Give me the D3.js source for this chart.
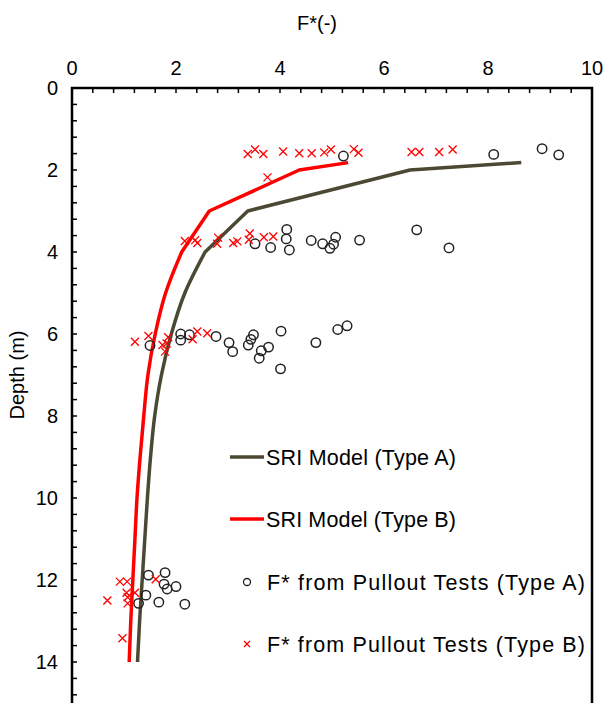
<!DOCTYPE html>
<html><head><meta charset="utf-8">
<script src="https://cdn.jsdelivr.net/npm/d3@7"></script>
<style>body{margin:0;background:#fff}svg{display:block}text{font-family:"Liberation Sans",Arial,sans-serif;fill:#000}</style>
</head><body><svg id="c" width="603" height="703"></svg>
<script>
const xTicks = [0, 2, 4, 6, 8, 10];
const yTicks = [0, 2, 4, 6, 8, 10, 12, 14];
const modelDepth = [1.82, 2, 3, 4, 5, 6, 7, 8, 9, 10, 11, 12, 13, 14];
const modelA = [8.64, 6.5, 3.38, 2.56, 2.17, 1.91, 1.72, 1.59, 1.51, 1.45, 1.40, 1.35, 1.30, 1.26];
const modelB = [5.31, 4.37, 2.64, 2.11, 1.80, 1.60, 1.46, 1.38, 1.31, 1.25, 1.21, 1.17, 1.13, 1.10];
const testAF = [5.22, 8.11, 9.04, 9.36,
  4.13, 4.12, 3.52, 3.82, 4.18, 4.60, 4.82, 4.96, 5.03, 5.07, 5.53, 6.63, 7.25,
  1.50, 2.09, 2.09, 2.26, 2.77, 3.02, 3.09, 3.39, 3.44, 3.49, 3.64, 3.60, 3.78, 4.02, 4.01, 4.69, 5.11, 5.29,
  1.47, 1.79, 1.77, 1.83, 2.00, 1.42, 1.28, 1.67, 2.17];
const testAD = [1.66, 1.62, 1.48, 1.63,
  3.45, 3.68, 3.80, 3.89, 3.95, 3.72, 3.80, 3.91, 3.81, 3.64, 3.71, 3.46, 3.90,
  6.28, 6.00, 6.15, 6.02, 6.06, 6.21, 6.43, 6.27, 6.13, 6.02, 6.41, 6.59, 6.32, 5.93, 6.85, 6.21, 5.89, 5.80,
  11.88, 11.82, 12.10, 12.22, 12.16, 12.37, 12.57, 12.54, 12.59];
const testBF = [3.38, 3.52, 3.68, 4.06, 4.37, 4.61, 4.85, 4.98, 5.42, 5.51, 3.76, 6.53, 6.68, 7.06, 7.32,
  2.17, 2.37, 2.41, 2.81, 2.79, 3.10, 3.18, 3.42, 3.40, 3.69, 3.87,
  1.21, 1.47, 1.74, 1.79, 1.85, 1.82, 2.32, 2.41, 2.60,
  0.92, 1.06, 1.05, 1.21, 1.07, 0.68, 1.07, 1.61, 0.97];
const testBD = [1.61, 1.50, 1.61, 1.55, 1.59, 1.59, 1.57, 1.50, 1.49, 1.58, 2.18, 1.56, 1.56, 1.56, 1.50,
  3.73, 3.71, 3.78, 3.65, 3.80, 3.78, 3.74, 3.55, 3.70, 3.64, 3.62,
  6.19, 6.05, 6.27, 6.43, 6.08, 6.23, 6.13, 5.94, 5.98,
  12.04, 12.04, 12.31, 12.31, 12.42, 12.50, 12.57, 11.98, 13.42];
const legendLabels = ["SRI Model (Type A)", "SRI Model (Type B)", "F* from Pullout Tests (Type A)", "F* from Pullout Tests (Type B)"];
const colA = "#4b4833", colB = "#ff0000";

const svg = d3.select("#c");
const x = d3.scaleLinear().domain([0, 10]).range([72, 592]);
const y = d3.scaleLinear().domain([0, 15]).range([88, 703]);

// minor ticks every 0.4
const minorX = d3.range(0, 10.001, 0.4);
const minorY = d3.range(0, 15.001, 0.4);
const g = svg.append("g");
g.selectAll(".mx").data(minorX).join("line")
  .attr("x1", d => x(d)).attr("x2", d => x(d)).attr("y1", y(0)).attr("y2", y(0) + 5)
  .attr("stroke", "#000").attr("stroke-width", 1.5);
g.selectAll(".my").data(minorY).join("line")
  .attr("x1", x(0)).attr("x2", x(0) + 5).attr("y1", d => y(d)).attr("y2", d => y(d))
  .attr("stroke", "#000").attr("stroke-width", 1.5);

// frame
g.append("path").attr("d", `M${x(0)},703V${y(0)}H${x(10)}V703`).attr("fill", "none")
  .attr("stroke", "#000").attr("stroke-width", 2.5);

// tick labels
g.selectAll(".xl").data(xTicks).join("text").attr("x", d => x(d)).attr("y", 75)
  .attr("text-anchor", "middle").attr("font-size", 20).text(d => d);
g.selectAll(".yl").data(yTicks).join("text").attr("x", 58).attr("y", d => y(d) + 7)
  .attr("text-anchor", "end").attr("font-size", 20).text(d => d);

svg.append("text").attr("x", 317).attr("y", 30).attr("text-anchor", "middle").attr("font-size", 20).text("F*(-)");
svg.append("text").attr("transform", "translate(24,375) rotate(-90)").attr("text-anchor", "middle").attr("font-size", 20).text("Depth (m)");

// model lines: straight segments down to 4 m, smooth curve below
function modelPath(vals) {
  const pts = modelDepth.map((d, i) => [x(vals[i]), y(d)]);
  const k = modelDepth.indexOf(4);
  const top = d3.line()(pts.slice(0, k + 1));
  const bottom = d3.line().curve(d3.curveMonotoneY)(pts.slice(k));
  return top + "L" + bottom.slice(1);
}
svg.append("path").attr("d", modelPath(modelA)).attr("fill", "none").attr("stroke", colA).attr("stroke-width", 3.5).attr("stroke-linejoin", "round");
svg.append("path").attr("d", modelPath(modelB)).attr("fill", "none").attr("stroke", colB).attr("stroke-width", 3.5).attr("stroke-linejoin", "round");

// markers
svg.selectAll(".ca").data(testAF).join("circle").attr("cx", d => x(d)).attr("cy", (d, i) => y(testAD[i]))
  .attr("r", 4.7).attr("fill", "none").attr("stroke", "#222").attr("stroke-width", 1.5);
const xs = 4;
svg.selectAll(".cb").data(testBF).join("path")
  .attr("d", (d, i) => { const cx = x(d), cy = y(testBD[i]); return `M${cx-xs},${cy-xs}L${cx+xs},${cy+xs}M${cx-xs},${cy+xs}L${cx+xs},${cy-xs}`; })
  .attr("stroke", colB).attr("stroke-width", 1.3).attr("fill", "none");

// legend
const lg = svg.append("g");
lg.append("line").attr("x1", 230).attr("x2", 264).attr("y1", 457).attr("y2", 457).attr("stroke", colA).attr("stroke-width", 3.5);
lg.append("line").attr("x1", 230).attr("x2", 264).attr("y1", 519).attr("y2", 519).attr("stroke", colB).attr("stroke-width", 3.5);
lg.append("circle").attr("cx", 247).attr("cy", 582).attr("r", 3.5).attr("fill", "none").attr("stroke", "#222").attr("stroke-width", 1.3);
lg.append("path").attr("d", "M244,641L250,647M244,647L250,641").attr("stroke", colB).attr("stroke-width", 1.3);
const ly = [457, 519, 582, 644];
const lw = [190, 190, 318, 318];
lg.selectAll("text").data(legendLabels).join("text").attr("x", (d, i) => i < 2 ? 266 : 267)
  .attr("y", (d, i) => ly[i] + 8).attr("font-size", 21.5)
  .attr("textLength", (d, i) => lw[i]).attr("lengthAdjust", "spacing").text(d => d);
</script></body></html>
